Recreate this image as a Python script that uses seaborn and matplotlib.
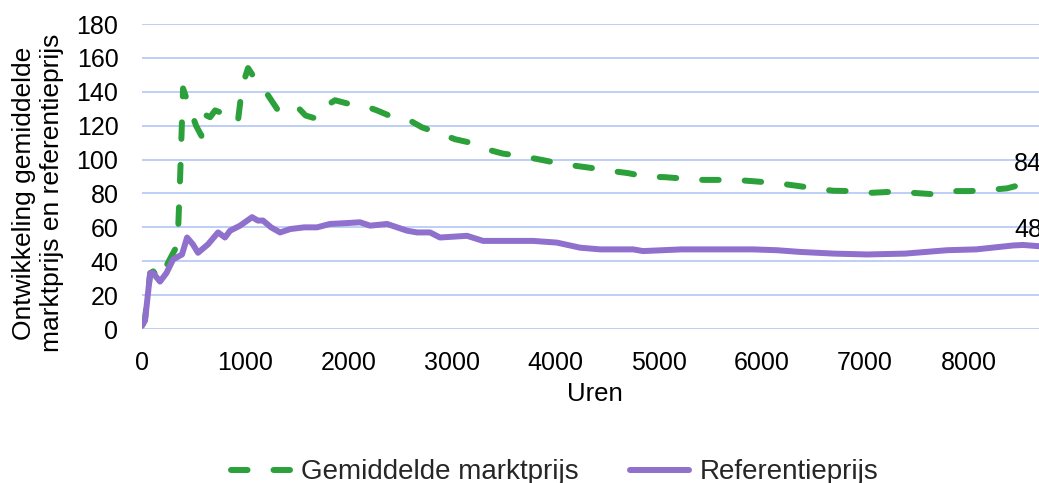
import matplotlib
matplotlib.use('Agg')
import matplotlib.pyplot as plt
import seaborn as sns
import pandas as pd

# Gemiddelde marktprijs (cumulatief gemiddelde) per uur
uren_markt = [0, 29, 79, 108, 174, 242, 285, 320, 349, 369, 397, 464, 523, 575, 590,
              659, 707, 774, 823, 929, 969, 1026, 1123, 1219, 1317, 1387, 1453, 1505,
              1583, 1694, 1791, 1868, 1994, 2139, 2275, 2429, 2565, 2710, 2856, 3030,
              3176, 3340, 3494, 3678, 3852, 4016, 4172, 4356, 4511, 4705, 4869, 5063,
              5237, 5431, 5615, 5789, 5963, 6157, 6341, 6515, 6689, 6882, 7066, 7260,
              7454, 7647, 7822, 8015, 8180, 8373, 8528, 8760]
marktprijs = [2, 6, 33, 34, 29, 38, 43, 47, 58, 90, 142, 130, 120, 114, 127,
              125, 129, 127.5, 129, 123, 143, 154, 145, 138, 129, 130, 129, 131,
              126, 124, 132, 135, 133, 132, 129, 125, 124, 119, 116, 112,
              110, 106, 103.5, 102, 100, 98, 96.5, 95, 93.5, 92, 90, 89.6,
              88.8, 88, 88, 87.8, 87, 86, 84.5, 83, 81.6, 81.4, 80.4, 81,
              80.4, 79.6, 81.4, 81.4, 82, 83, 85.5, 87]

# Referentieprijs per uur
uren_ref = [0, 29, 79, 108, 174, 236, 300, 387, 436, 492, 542, 639, 736, 803, 852,
            949, 1065, 1121, 1171, 1249, 1336, 1436, 1569, 1694, 1819, 1977, 2110,
            2207, 2372, 2469, 2567, 2662, 2788, 2884, 3146, 3302, 3550, 3786, 4016,
            4240, 4434, 4753, 4850, 5222, 5566, 5911, 6147, 6369, 6698, 7018, 7386,
            7792, 8074, 8431, 8528, 8760]
referentieprijs = [2, 5, 33, 33, 28, 33, 41, 44, 54, 50, 45, 50, 57, 54, 58,
                   61, 66, 64, 64, 60, 57, 59, 60, 60, 62, 62.5, 63,
                   61, 62, 60, 58, 57, 57, 54, 55, 52, 52, 52, 51,
                   48, 47, 47, 46, 47, 47, 47, 46.5, 45.5, 44.5, 44, 44.5,
                   46.5, 47, 49.3, 49.6, 48.5]

eind_labels = ['84', '48']
x_ticks = list(range(0, 9000, 1000))
y_ticks = list(range(0, 200, 20))

groen = '#2ca03a'
paars = '#8f70cc'
raster = '#b8cbf5'

sns.set_theme(style='white')
plt.rcParams['font.family'] = ['Liberation Sans', 'DejaVu Sans']

df_markt = pd.DataFrame({'Uren': uren_markt, 'Prijs': marktprijs})
df_ref = pd.DataFrame({'Uren': uren_ref, 'Prijs': referentieprijs})

fig = plt.figure(figsize=(10.39, 4.83), dpi=100)
# plotgebied loopt rechts iets buiten de afbeelding (zoals in het origineel)
ax = fig.add_axes([0.1367, 0.3188, 0.871, 0.6315])

sns.lineplot(data=df_markt, x='Uren', y='Prijs', ax=ax, color=groen, linewidth=4.3,
             linestyle=(0, (2.77, 4.35)), dash_capstyle='round',
             label='Gemiddelde marktprijs')
sns.lineplot(data=df_ref, x='Uren', y='Prijs', ax=ax, color=paars, linewidth=4.3,
             solid_capstyle='round', solid_joinstyle='round', label='Referentieprijs')

# eindwaarden als label bij het laatste punt
for df, tekst, dy in zip([df_markt, df_ref], eind_labels, [13, 12]):
    ax.annotate(tekst, xy=(df['Uren'].iloc[-1], df['Prijs'].iloc[-1]),
                xytext=(-13.5, dy), textcoords='offset points', ha='center', va='center',
                fontsize=18, color='black', annotation_clip=False)

ax.set_xlim(0, 8760)
ax.set_ylim(0, 180)
ax.set_xticks(x_ticks)
ax.set_yticks(y_ticks)
ax.set_axisbelow(True)
ax.yaxis.grid(True, color=raster, linewidth=1.3)
ax.xaxis.grid(False)
for s in ax.spines.values():
    s.set_visible(False)
ax.tick_params(axis='y', length=0, labelsize=18, pad=17, colors='black')
ax.tick_params(axis='x', length=0, labelsize=18, pad=16, colors='black')
ax.set_xlabel('Uren', fontsize=18.5, labelpad=5, color='black')
ax.set_ylabel('')

fig.text(0.0366, 0.6004, 'Ontwikkeling gemiddelde\nmarktprijs en referentieprijs',
         rotation=90, ha='center', va='center', multialignment='center',
         fontsize=19, color='black', linespacing=1.2)

handles, labels = ax.get_legend_handles_labels()
ax.get_legend().remove()
fig.legend(handles, labels, loc='center', bbox_to_anchor=(0.534, 0.022), ncol=2,
           frameon=False, fontsize=20, handlelength=2.12, handletextpad=0.4,
           columnspacing=1.87, borderpad=0)

fig.savefig('out.png', dpi=100)
